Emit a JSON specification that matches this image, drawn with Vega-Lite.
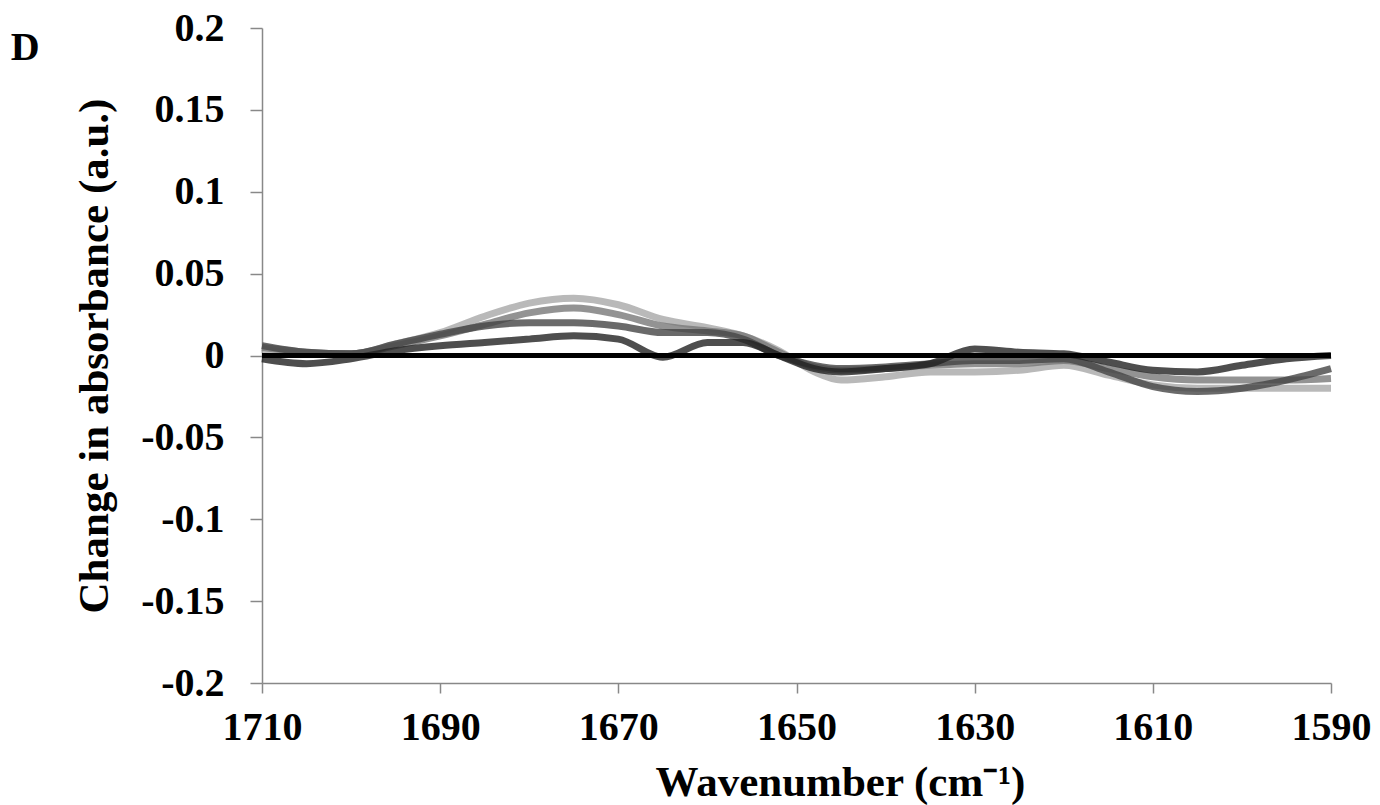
{
  "$schema": "https://vega.github.io/schema/vega-lite/v6.json",
  "width": 1069,
  "height": 655,
  "autosize": {"type": "none"},
  "padding": {"left": 262, "top": 28, "right": 49, "bottom": 122},
  "background": "white",
  "config": {"view": {"stroke": null}, "font": "Liberation Serif"},
  "title": {"text": "D", "anchor": "start", "frame": "bounds", "orient": "top", "fontSize": 40, "font": "Liberation Serif", "fontWeight": "bold", "color": "black", "dx": -63, "dy": 64},
  "data": {"values": [
    {"wn":1710,"v":0.004,"s":"L"},{"wn":1705,"v":0.001,"s":"L"},{"wn":1700,"v":0.001,"s":"L"},{"wn":1695,"v":0.007,"s":"L"},{"wn":1690,"v":0.014,"s":"L"},{"wn":1685,"v":0.024,"s":"L"},{"wn":1680,"v":0.032,"s":"L"},{"wn":1675,"v":0.035,"s":"L"},{"wn":1670,"v":0.031,"s":"L"},{"wn":1665,"v":0.022,"s":"L"},{"wn":1660,"v":0.017,"s":"L"},{"wn":1656,"v":0.012,"s":"L"},{"wn":1652,"v":0.003,"s":"L"},{"wn":1648,"v":-0.010,"s":"L"},{"wn":1645,"v":-0.015,"s":"L"},{"wn":1640,"v":-0.013,"s":"L"},{"wn":1635,"v":-0.010,"s":"L"},{"wn":1630,"v":-0.010,"s":"L"},{"wn":1625,"v":-0.009,"s":"L"},{"wn":1620,"v":-0.006,"s":"L"},{"wn":1615,"v":-0.012,"s":"L"},{"wn":1610,"v":-0.018,"s":"L"},{"wn":1605,"v":-0.020,"s":"L"},{"wn":1600,"v":-0.020,"s":"L"},{"wn":1595,"v":-0.020,"s":"L"},{"wn":1590,"v":-0.020,"s":"L"},
    {"wn":1710,"v":0.005,"s":"M"},{"wn":1705,"v":0.002,"s":"M"},{"wn":1700,"v":0.001,"s":"M"},{"wn":1695,"v":0.006,"s":"M"},{"wn":1690,"v":0.012,"s":"M"},{"wn":1685,"v":0.019,"s":"M"},{"wn":1680,"v":0.026,"s":"M"},{"wn":1675,"v":0.029,"s":"M"},{"wn":1670,"v":0.025,"s":"M"},{"wn":1665,"v":0.018,"s":"M"},{"wn":1660,"v":0.015,"s":"M"},{"wn":1656,"v":0.012,"s":"M"},{"wn":1652,"v":0.002,"s":"M"},{"wn":1648,"v":-0.007,"s":"M"},{"wn":1645,"v":-0.009,"s":"M"},{"wn":1640,"v":-0.008,"s":"M"},{"wn":1635,"v":-0.006,"s":"M"},{"wn":1630,"v":-0.005,"s":"M"},{"wn":1625,"v":-0.005,"s":"M"},{"wn":1620,"v":-0.003,"s":"M"},{"wn":1615,"v":-0.008,"s":"M"},{"wn":1610,"v":-0.013,"s":"M"},{"wn":1605,"v":-0.015,"s":"M"},{"wn":1600,"v":-0.015,"s":"M"},{"wn":1595,"v":-0.015,"s":"M"},{"wn":1590,"v":-0.014,"s":"M"},
    {"wn":1710,"v":0.006,"s":"D"},{"wn":1705,"v":0.002,"s":"D"},{"wn":1700,"v":0.001,"s":"D"},{"wn":1695,"v":0.007,"s":"D"},{"wn":1690,"v":0.013,"s":"D"},{"wn":1685,"v":0.018,"s":"D"},{"wn":1680,"v":0.020,"s":"D"},{"wn":1675,"v":0.020,"s":"D"},{"wn":1670,"v":0.018,"s":"D"},{"wn":1665,"v":0.014,"s":"D"},{"wn":1660,"v":0.014,"s":"D"},{"wn":1656,"v":0.010,"s":"D"},{"wn":1652,"v":0.000,"s":"D"},{"wn":1648,"v":-0.006,"s":"D"},{"wn":1645,"v":-0.008,"s":"D"},{"wn":1640,"v":-0.007,"s":"D"},{"wn":1635,"v":-0.005,"s":"D"},{"wn":1630,"v":-0.003,"s":"D"},{"wn":1625,"v":-0.003,"s":"D"},{"wn":1620,"v":-0.002,"s":"D"},{"wn":1615,"v":-0.010,"s":"D"},{"wn":1610,"v":-0.019,"s":"D"},{"wn":1605,"v":-0.022,"s":"D"},{"wn":1600,"v":-0.020,"s":"D"},{"wn":1595,"v":-0.015,"s":"D"},{"wn":1590,"v":-0.008,"s":"D"},
    {"wn":1710,"v":-0.002,"s":"K"},{"wn":1705,"v":-0.005,"s":"K"},{"wn":1700,"v":-0.002,"s":"K"},{"wn":1695,"v":0.003,"s":"K"},{"wn":1690,"v":0.006,"s":"K"},{"wn":1685,"v":0.008,"s":"K"},{"wn":1680,"v":0.010,"s":"K"},{"wn":1675,"v":0.012,"s":"K"},{"wn":1670,"v":0.010,"s":"K"},{"wn":1665,"v":-0.001,"s":"K"},{"wn":1660,"v":0.008,"s":"K"},{"wn":1656,"v":0.008,"s":"K"},{"wn":1652,"v":0.000,"s":"K"},{"wn":1648,"v":-0.008,"s":"K"},{"wn":1645,"v":-0.010,"s":"K"},{"wn":1640,"v":-0.008,"s":"K"},{"wn":1635,"v":-0.005,"s":"K"},{"wn":1630,"v":0.004,"s":"K"},{"wn":1625,"v":0.002,"s":"K"},{"wn":1620,"v":0.001,"s":"K"},{"wn":1615,"v":-0.004,"s":"K"},{"wn":1610,"v":-0.009,"s":"K"},{"wn":1605,"v":-0.010,"s":"K"},{"wn":1600,"v":-0.006,"s":"K"},{"wn":1595,"v":-0.002,"s":"K"},{"wn":1590,"v":0.000,"s":"K"},
    {"wn":1710,"v":0,"s":"Z"},{"wn":1590,"v":0,"s":"Z"}
  ]},
  "encoding": {
    "x": {"field": "wn", "type": "quantitative",
      "scale": {"domain": [1590, 1710], "reverse": true, "nice": false, "zero": false},
      "axis": {"values": [1710, 1690, 1670, 1650, 1630, 1610, 1590], "labelExpr": "'' + datum.value", "grid": false, "domainColor": "#888888", "domainWidth": 1.5, "tickColor": "#888888", "tickWidth": 1.5, "tickSize": 10,
        "labelFont": "Liberation Serif", "labelFontWeight": "bold", "labelFontSize": 40, "labelColor": "black", "labelPadding": 14, "labelFlush": false,
        "title": "Wavenumber (cm⁻¹)", "titleFont": "Liberation Serif", "titleFontWeight": "bold", "titleFontSize": 43, "titleColor": "black", "titlePadding": 14, "titleX": 578, "titleAlign": "center"}},
    "y": {"field": "v", "type": "quantitative",
      "scale": {"domain": [-0.2, 0.2], "nice": false},
      "axis": {"values": [-0.2, -0.15, -0.1, -0.05, 0, 0.05, 0.1, 0.15, 0.2], "labelExpr": "'' + datum.value", "grid": false, "domainColor": "#888888", "domainWidth": 1.5, "tickColor": "#888888", "tickWidth": 1.5, "tickSize": 12,
        "labelFont": "Liberation Serif", "labelFontWeight": "bold", "labelFontSize": 40, "labelColor": "black", "labelPadding": 26, "labelFlush": false,
        "title": "Change in absorbance (a.u.)", "titleFont": "Liberation Serif", "titleFontWeight": "bold", "titleFontSize": 43, "titleColor": "black", "titlePadding": 24}}
  },
  "layer": [
    {"transform": [{"filter": "datum.s !== 'Z'"}],
     "mark": {"type": "line", "interpolate": "monotone", "strokeWidth": 7, "opacity": 0.8},
     "encoding": {
       "color": {"field": "s", "type": "nominal", "legend": null, "scale": {"domain": ["L", "M", "D", "K"], "range": ["#a8a8a8", "#787878", "#454545", "#222222"]}},
       "order": {"field": "wn", "type": "quantitative"}
     }},
    {"transform": [{"filter": "datum.s === 'Z'"}],
     "mark": {"type": "line", "strokeWidth": 5, "color": "black"},
     "encoding": {}}
  ]
}
